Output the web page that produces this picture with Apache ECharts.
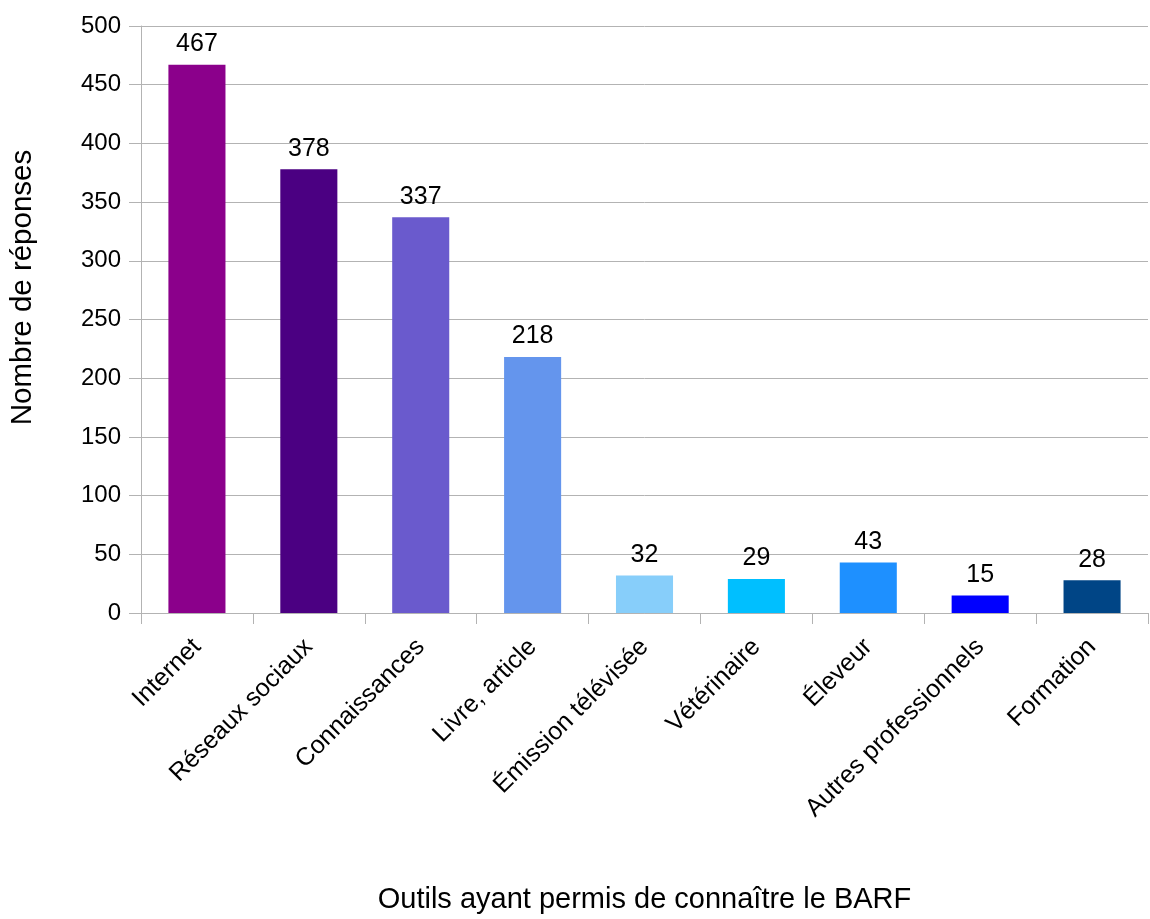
<!DOCTYPE html>
<html><head><meta charset="utf-8">
<script src="https://cdn.jsdelivr.net/npm/echarts@6/dist/echarts.min.js"></script>
<style>html,body{margin:0;padding:0;background:#fff}#c{width:1150px;height:919px}</style>
</head><body><div id="c"></div>
<script>
const categories = ["Internet","Réseaux sociaux","Connaissances","Livre, article","Émission télévisée","Vétérinaire","Éleveur","Autres professionnels","Formation"];
const values = [467,378,337,218,32,29,43,15,28];
const colors = ["#8b008b","#4b0082","#6a5acd","#6495ed","#87cefa","#00bfff","#1e90ff","#0000ff","#004586"];
const yTicks = [0,50,100,150,200,250,300,350,400,450,500];
const chart = echarts.init(document.getElementById('c'));
const F = "'Liberation Sans', Arial, sans-serif";
chart.setOption({
  animation:false,
  grid:{left:140,top:26,right:2,bottom:302,containLabel:false},
  xAxis:{type:'category',data:categories,
    name:'Outils ayant permis de connaître le BARF',nameLocation:'middle',nameGap:272,
    nameTextStyle:{fontFamily:F,fontSize:29,color:'#000'},
    axisLine:{show:true,lineStyle:{color:'#b3b3b3'}},
    axisTick:{show:true,length:11,lineStyle:{color:'#b3b3b3'}},
    axisLabel:{rotate:45,fontFamily:F,fontSize:25,color:'#000',margin:30,interval:0}},
  yAxis:{type:'value',min:0,max:500,interval:50,
    name:'Nombre de réponses',nameLocation:'middle',nameGap:103,
    nameTextStyle:{fontFamily:F,fontSize:29.5,color:'#000',padding:[0,0,0,64]},
    axisLine:{show:true,lineStyle:{color:'#b3b3b3'}},
    axisTick:{show:true,length:12,inside:false,lineStyle:{color:'#b3b3b3'}},
    splitLine:{lineStyle:{color:'#b3b3b3'}},
    axisLabel:{fontFamily:F,fontSize:24,color:'#000',margin:20,
      formatter:v=>yTicks.includes(v)?String(v):''}},
  series:[{type:'bar',barWidth:'51%',
    data:values.map((v,i)=>({value:v,itemStyle:{color:colors[i]}})),
    label:{show:true,position:'top',distance:8,fontFamily:F,fontSize:25,color:'#000'}}]
});
</script></body></html>
